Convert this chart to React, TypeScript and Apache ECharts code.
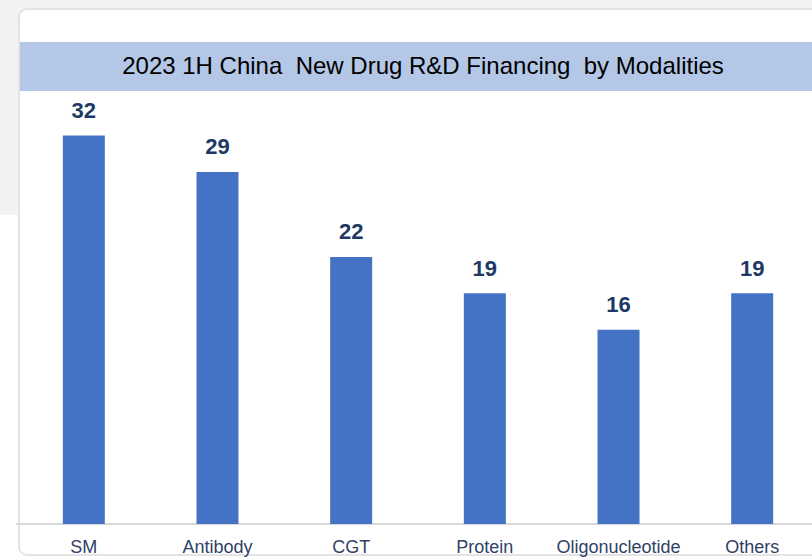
import React, { useEffect, useRef } from "react";
import * as echarts from "echarts";

const categories = ["SM", "Antibody", "CGT", "Protein", "Oligonucleotide", "Others"];
const values = [32, 29, 22, 19, 16, 19];
const titleText = "2023 1H China  New Drug R&D Financing  by Modalities";

export default function App() {
  const ref = useRef<HTMLDivElement>(null);
  useEffect(() => {
    if (!ref.current) return;
    const chart = echarts.init(ref.current, undefined, { renderer: "svg" });
    chart.setOption({
      animation: false,
      backgroundColor: "#ffffff",
      graphic: [
        { type: "rect", z: -10, silent: true, shape: { x: 0, y: 0, width: 830, height: 215 }, style: { fill: "#f2f2f2" } },
        { type: "rect", z: -9, silent: true, shape: { x: 19, y: 9, width: 830, height: 546, r: 8 }, style: { fill: "#ffffff", stroke: "#e4e4e4", lineWidth: 2 } },
        { type: "rect", z: -8, silent: true, shape: { x: 20, y: 42, width: 820, height: 49 }, style: { fill: "#b4c7e7" } },
        {
          type: "text", z: 10, silent: true, x: 423, y: 65.5,
          style: { text: titleText, fill: "#000000", font: "24px Arial, 'Liberation Sans', sans-serif", textAlign: "center", textVerticalAlign: "middle" },
        },
      ],
      grid: { left: 17, right: 11, top: 38.4, bottom: 33, containLabel: false },
      xAxis: {
        type: "category",
        data: categories,
        axisLine: { show: true, lineStyle: { color: "#d9d9d9", width: 2 } },
        axisTick: { show: false },
        axisLabel: { color: "#2f4266", fontSize: 18, fontFamily: "Arial, 'Liberation Sans', sans-serif", margin: 14, interval: 0 },
      },
      yAxis: { type: "value", min: 0, max: 40, show: false, splitLine: { show: false } },
      series: [
        {
          type: "bar",
          data: values,
          barWidth: 42,
          itemStyle: { color: "#4472c4" },
          label: {
            show: true,
            position: "top",
            distance: 14,
            color: "#203864",
            fontSize: 22,
            fontWeight: "bold",
            fontFamily: "Arial, 'Liberation Sans', sans-serif",
          },
        },
      ],
    });
    return () => chart.dispose();
  }, []);
  return (
    <div style={{ position: "fixed", left: 0, top: 0, width: 812, height: 557, overflow: "hidden" }}>
      <div ref={ref} style={{ width: 830, height: 557 }} />
    </div>
  );
}
